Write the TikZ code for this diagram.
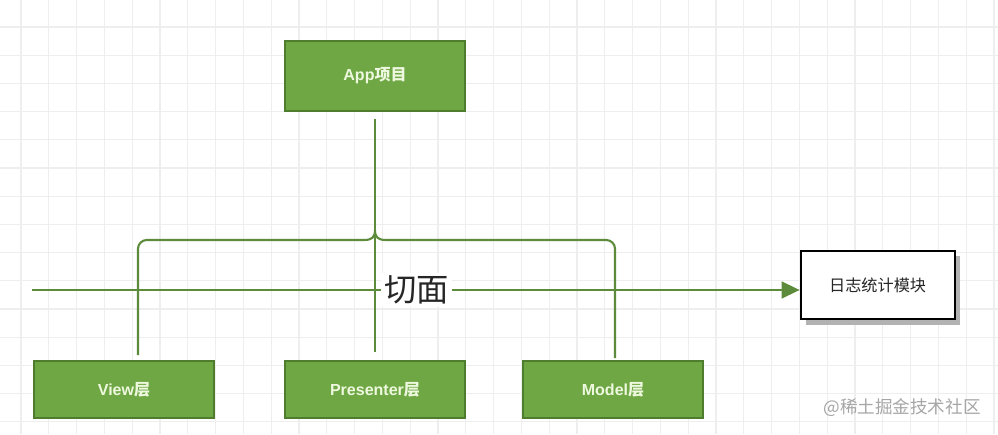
\documentclass[tikz,border=0pt]{standalone}
\usepackage{fontspec}
\setmainfont{Liberation Sans}
\newfontfamily\cjk{Noto Sans CJK SC}
\usetikzlibrary{arrows.meta,shadows}
\definecolor{boxgreen}{HTML}{6EA744}
\definecolor{boxedge}{HTML}{4E7D2E}
\definecolor{wiregreen}{HTML}{5C8C3B}
\definecolor{boxtext}{HTML}{EEF8DE}
\definecolor{gridgray}{HTML}{EEEEEE}

\begin{document}
\begin{tikzpicture}[
  layer/.style={draw=boxedge, line width=1.4pt, fill=boxgreen, text=boxtext,
    font=\bfseries\fontsize{11.4}{13}\selectfont, minimum width=4.5cm, minimum height=1.42cm},
  wire/.style={draw=wiregreen, line width=1.5pt},
]
\useasboundingbox (0,0) rectangle (24.95,10.85);
\fill[white] (0,0) rectangle (24.95,10.85);

% background grid
\foreach \i in {0,...,35}
  \draw[gridgray, line width=0.8pt] ({0.525+0.695*\i},0) -- ({0.525+0.695*\i},10.85);
\foreach \j in {0,...,14}
  \draw[gridgray, line width=0.8pt] (0,{10.175-0.705*\j}) -- (24.95,{10.175-0.705*\j});

\node[layer, minimum height=1.75cm] at (9.375,8.95) (app) {App{\cjk 项目}};
\node[layer] at (3.1,1.11) (view) {View{\cjk 层}};
\node[layer] at (9.375,1.11) (presenter) {Presenter{\cjk 层}};
\node[layer] at (15.325,1.11) (model) {Model{\cjk 层}};
\node[draw=black, line width=1.4pt, fill=white, minimum width=3.85cm, minimum height=1.72cm,
  font=\cjk\fontsize{11.5}{13}\selectfont, text=black!85,
  drop shadow={shadow xshift=0.13cm, shadow yshift=-0.13cm, fill=black!30, opacity=1}]
  at (21.94,3.725) (log) {日志统计模块};

% brace joining the three layers
\coordinate (tip) at (9.375,5.1);
\coordinate (lfoot) at (3.45,1.975);
\coordinate (rfoot) at (15.375,1.9);
\draw[wire, shorten <=0.18cm, shorten >=0.2cm] (app.south) -- (presenter.north);
\draw[wire] (lfoot) -- (3.45,4.63) arc[start angle=180, end angle=90, radius=0.22]
  -- (9.1,4.85) .. controls (9.3,4.85) and (9.375,4.92) .. (tip)
  .. controls (9.375,4.92) and (9.45,4.85) .. (9.65,4.85)
  -- (15.155,4.85) arc[start angle=90, end angle=0, radius=0.22] -- (rfoot);

% cut line
\coordinate (src) at (0.8,3.6);
\draw[wire, -{Triangle[length=0.45cm, width=0.42cm]}] (src) -- (log.west |- src);
\node[fill=white, inner sep=0.08cm, text=black!85, font=\cjk\fontsize{23}{26}\selectfont] at (10.42,3.6) (cut) {切面};

\node[text=black!35, font=\cjk\fontsize{12.5}{14}\selectfont] at (22.55,0.65) (mark) {@稀土掘金技术社区};
\end{tikzpicture}
\end{document}
